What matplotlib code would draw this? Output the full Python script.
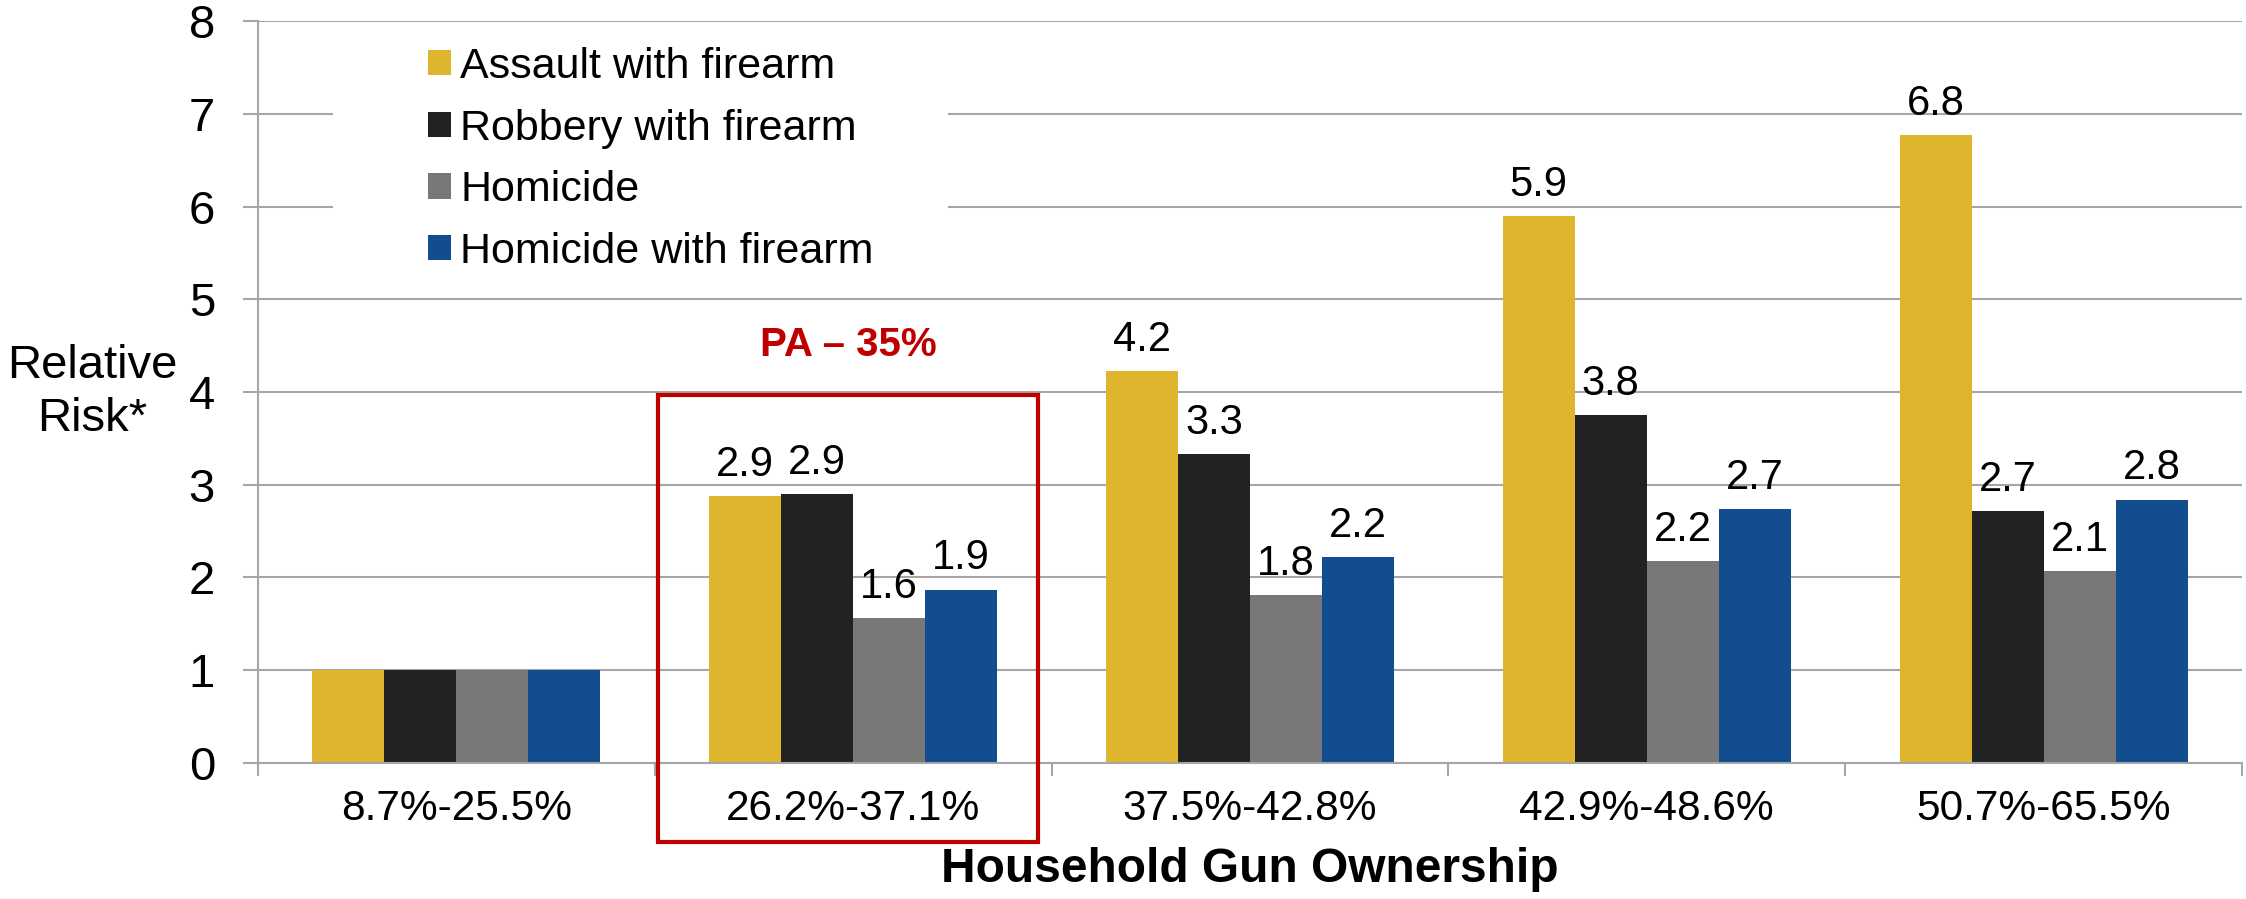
import numpy as np
import matplotlib.pyplot as plt
from matplotlib.patches import Rectangle

plt.rcParams['font.family'] = ['Liberation Sans', 'DejaVu Sans']

# ---------- data ----------
categories = ["8.7%-25.5%", "26.2%-37.1%", "37.5%-42.8%", "42.9%-48.6%", "50.7%-65.5%"]
series_names = ["Assault with firearm", "Robbery with firearm", "Homicide", "Homicide with firearm"]
assault = [1.0, 2.88, 4.23, 5.90, 6.77]
robbery = [1.0, 2.90, 3.33, 3.75, 2.72]
homicide = [1.0, 1.56, 1.81, 2.18, 2.07]
homicide_firearm = [1.0, 1.87, 2.22, 2.74, 2.84]
series_values = [assault, robbery, homicide, homicide_firearm]
colors = ["#DEB52C", "#222222", "#787878", "#124E8F"]

# ---------- figure ----------
fig = plt.figure(figsize=(22.46, 8.99), dpi=100)
ax = fig.add_axes([0.1149, 0.1513, 0.8833, 0.8253])

x = np.arange(len(categories))
w = 0.1815
grid_c = "#A6A6A6"

for k, (vals, c) in enumerate(zip(series_values, colors)):
    offs = (k - 1.5) * w
    bars = ax.bar(x + offs, vals, width=w, color=c, label=series_names[k], zorder=2)
    # first group is the reference (=1), no labels there
    for i, b in enumerate(bars):
        if i == 0:
            continue
        ax.annotate(f"{vals[i]:.1f}", (b.get_x() + b.get_width() / 2, b.get_height()),
                    xytext=(0, 8), textcoords="offset points",
                    ha="center", va="bottom", fontsize=30)

ax.set_xlim(-0.5, len(categories) - 0.5)
ax.set_ylim(0, 8)
ax.set_yticks(range(0, 9))
ax.set_xticks(x)
ax.set_xticklabels(categories)
ax.set_xticks(np.arange(-0.5, len(categories)), minor=True)

ax.grid(axis="y", color=grid_c, linewidth=1.5)
ax.set_axisbelow(True)
for s in ["top", "right"]:
    ax.spines[s].set_visible(False)
for s in ["left", "bottom"]:
    ax.spines[s].set_color(grid_c)
    ax.spines[s].set_linewidth(1.5)

ax.tick_params(axis="y", length=11, width=1.5, color=grid_c, pad=20, labelsize=34)
ax.tick_params(axis="x", which="major", length=0, pad=19, labelsize=30.5)
ax.tick_params(axis="x", which="minor", length=9, width=1.5, color=grid_c)

ax.set_xlabel("Household Gun Ownership", fontsize=34.5, fontweight="bold", labelpad=13)
fig.text(0.041, 0.563, "Relative\nRisk*", ha="center", va="center", fontsize=34, linespacing=1.26)

# white block behind the legend hides the gridlines
ax.add_patch(Rectangle((-0.311, 5.4), 1.55, 2.2, facecolor="white", edgecolor="none", zorder=1))
ax.legend(loc="upper left", bbox_to_anchor=(-0.125, 7.95), bbox_transform=ax.transData,
          frameon=False, fontsize=31, borderpad=0, handlelength=0.52, handleheight=0.52,
          handletextpad=0.22, labelspacing=0.5)

# highlight box for Pennsylvania
ax.add_patch(Rectangle((0.508, -0.85), 0.958, 4.82, fill=False, edgecolor="#C00000",
                       linewidth=3, clip_on=False, zorder=3))
ax.text(0.987, 4.51, "PA \u2013 35%", color="#C00000", fontsize=29, fontweight="bold",
        ha="center", va="center")

plt.savefig("out.png", dpi=100)
